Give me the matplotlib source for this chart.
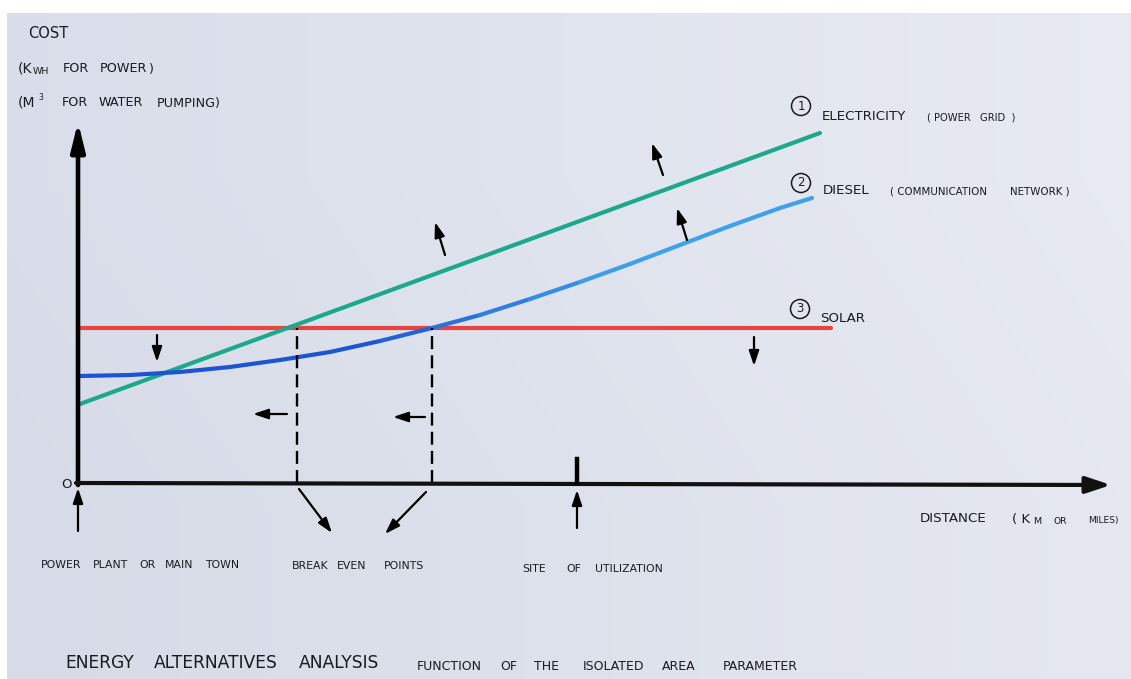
import numpy as np
import matplotlib
matplotlib.use("Agg")
import matplotlib.pyplot as plt
from matplotlib.collections import LineCollection
from matplotlib.patches import Circle

# chart values (distance units, cost units)
electricity_dist = [0.02, 7.42]
electricity_cost = [0.79, 3.50]

diesel_dist = [0.02, 0.52, 1.02, 1.52, 2.02, 2.52, 3.02, 3.54,
               4.02, 4.52, 5.02, 5.52, 6.02, 6.52, 7.02, 7.34]
diesel_cost = [1.07, 1.08, 1.11, 1.16, 1.23, 1.31, 1.42, 1.55,
               1.68, 1.84, 2.01, 2.19, 2.38, 2.57, 2.75, 2.85]

solar_dist = [0.02, 7.53]
solar_cost = [1.55, 1.55]

break_even = [2.19, 3.54]
site_dist = 4.99

# trend arrows: (tail, head)
trend_arrows = [
    ((0.79, 1.48), (0.79, 1.21)),
    ((2.09, 0.69), (1.75, 0.69)),
    ((3.47, 0.66), (3.15, 0.66)),
    ((3.67, 2.28), (3.57, 2.61)),
    ((5.85, 3.08), (5.74, 3.40)),
    ((6.09, 2.43), (5.99, 2.75)),
    ((6.76, 1.46), (6.76, 1.17)),
]
ground_arrows = [
    ((0.00, -0.48), (0.00, -0.05)),
    ((2.21, -0.06), (2.54, -0.50)),
    ((3.48, -0.09), (3.07, -0.51)),
    ((4.99, -0.45), (4.99, -0.07)),
]

W, H = 1131, 679
fig = plt.figure(figsize=(W / 100, H / 100), dpi=100)
fig.patch.set_facecolor("white")
ax = fig.add_axes([0, 0, 1, 1])
ax.set_xlim(-0.78, 10.53)
ax.set_ylim(-1.96, 4.83)
ax.axis("off")

# paper background
grad = np.linspace(0, 1, 256)
paper = np.zeros((2, 256, 3))
left_c = np.array([214, 219, 231]) / 255
right_c = np.array([229, 232, 240]) / 255
for i in range(2):
    paper[i] = left_c + np.outer(grad, right_c - left_c) + (0.01 if i == 0 else 0)
paper = np.clip(paper, 0, 1)
ax.imshow(paper, extent=(-0.71, 10.53, -1.96, 4.70), aspect="auto", zorder=0,
          interpolation="bilinear")


def label(px, py, s, size, **kw):
    fig.text(px / W, 1 - py / H, s, fontsize=size, va="center", color="#1a1a20", **kw)


def words(starts, py, parts, size, **kw):
    for px, s in zip(starts, parts):
        label(px, py, s, size, **kw)


# axes
ax.annotate("", xy=(0, 3.61), xytext=(0, -0.02),
            arrowprops=dict(arrowstyle="-|>,head_length=1.7,head_width=0.42",
                            lw=3.3, color="black", shrinkA=0, shrinkB=0),
            zorder=5)
ax.annotate("", xy=(10.33, -0.02), xytext=(-0.02, 0.0),
            arrowprops=dict(arrowstyle="-|>,head_length=1.5,head_width=0.5",
                            lw=3.0, color="#111111", shrinkA=0, shrinkB=0),
            zorder=5)

# curves
ax.plot(electricity_dist, electricity_cost, color="#1ca88b", lw=3.0,
        solid_capstyle="round", zorder=3)
ax.plot(solar_dist, solar_cost, color="#e8443f", lw=3.0,
        solid_capstyle="round", zorder=2)

pts = np.column_stack([diesel_dist, diesel_cost])
segs = np.stack([pts[:-1], pts[1:]], axis=1)
mid = (pts[:-1, 0] + pts[1:, 0]) / 2
t = np.clip((mid - 2.8) / 2.6, 0, 1)[:, None]
dark = np.array([0.11, 0.33, 0.82])
light = np.array([0.24, 0.63, 0.92])
cols = dark + t * (light - dark)
ax.add_collection(LineCollection(segs, colors=cols, linewidths=3.0,
                                 capstyle="round", joinstyle="round", zorder=4))

# break even dashed lines and site tick
for be in break_even:
    ax.plot([be, be], [0, solar_cost[0]], color="black", lw=1.7,
            dashes=(5.5, 2.6), zorder=4)
ax.plot([site_dist, site_dist], [0, 0.24], color="black", lw=3.2, zorder=5)

for tail, head in trend_arrows + ground_arrows:
    ax.annotate("", xy=head, xytext=tail,
                arrowprops=dict(arrowstyle="-|>,head_length=0.9,head_width=0.3",
                                lw=1.6, color="black", shrinkA=0, shrinkB=0),
                zorder=6)

# numbered circles
for cx, cy, n in [(7.23, 3.77, "1"), (7.23, 3.00, "2"), (7.22, 1.74, "3")]:
    ax.add_patch(Circle((cx, cy), 0.095, fill=False, lw=1.1, ec="#1a1a20", zorder=6))
    ax.text(cx, cy, n, fontsize=8.5, ha="center", va="center", color="#1a1a20")

# y axis labels
label(28, 34, "COST", 10.5)
label(18, 69, "(K", 10)
label(33, 71, "WH", 6.8)
words([63, 100, 148], 69, ["FOR", "POWER", ")"], 9.2)
label(18, 103, "(M", 10)
label(38, 98, "3", 5.5)
words([62, 99, 157], 103, ["FOR", "WATER", "PUMPING)"], 9.2)
label(61, 484, "O", 9.5)

# series labels
label(822, 116, "ELECTRICITY", 9.6)
words([927, 980], 118, ["( POWER", "GRID  )"], 7.2)
label(823, 191, "DIESEL", 9.6)
words([890, 1010], 192, ["( COMMUNICATION", "NETWORK )"], 7.4)
label(820, 318, "SOLAR", 9.6)

# x axis labels
label(920, 519, "DISTANCE", 9.6)
label(1012, 519, "( K", 9.6)
label(1033, 521, "M", 6.8)
label(1053, 521, "OR", 6.6)
label(1088, 521, "MILES)", 6.6)
words([41, 93, 139, 165, 205], 565, ["POWER", "PLANT", "OR", "MAIN", "TOWN"], 7.8)
words([292, 337, 384], 566, ["BREAK", "EVEN", "POINTS"], 7.8)
words([522, 566, 595], 569, ["SITE", "OF", "UTILIZATION"], 7.8)

# title
words([65, 154, 299], 663, ["ENERGY", "ALTERNATIVES", "ANALYSIS"], 12.3)
words([417, 500, 534, 583, 662, 723], 666,
      ["FUNCTION", "OF", "THE", "ISOLATED", "AREA", "PARAMETER"], 9.0)

fig.savefig("out.png", dpi=100, facecolor=fig.get_facecolor())
